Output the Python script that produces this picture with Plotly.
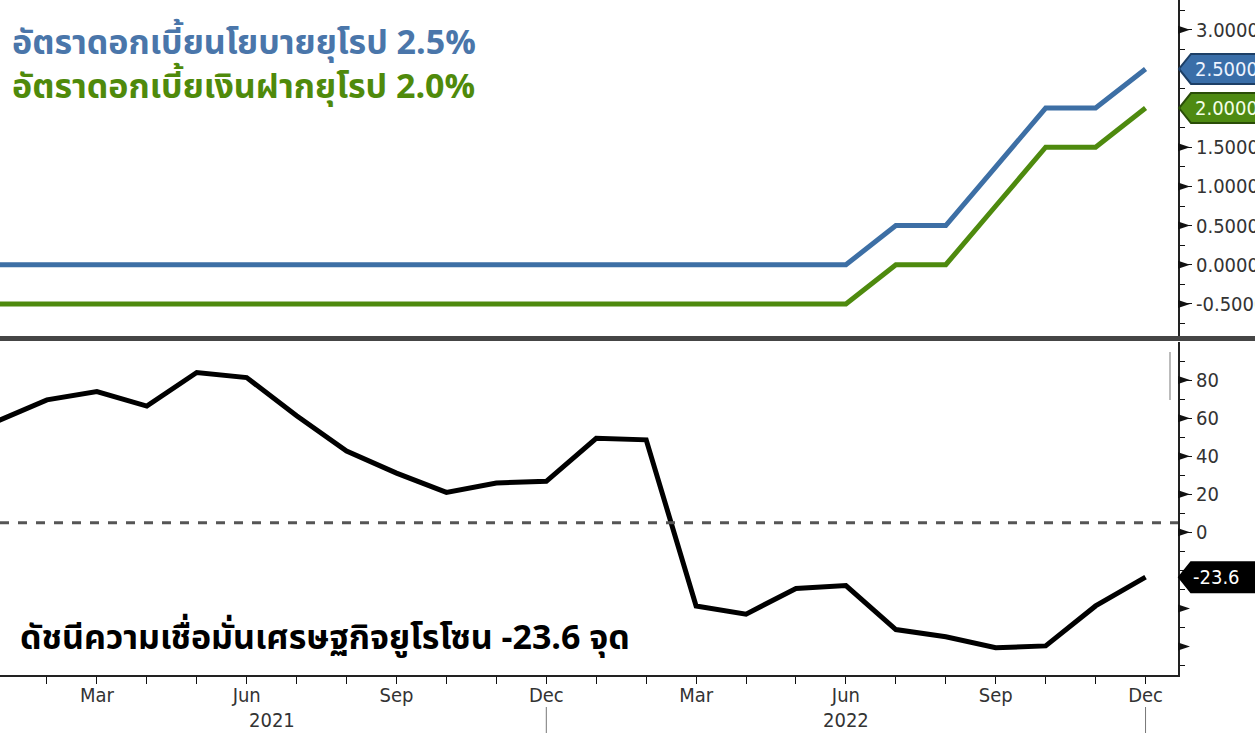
import plotly.graph_objects as go

# ---------------- data ----------------
months = ["Jan", "Feb", "Mar", "Apr", "May", "Jun", "Jul", "Aug", "Sep", "Oct", "Nov", "Dec"] * 2
years = [2021] * 12 + [2022] * 12
x_idx = list(range(len(months)))

policy_rate = [0.0] * 18 + [0.5, 0.5, 1.25, 2.0, 2.0, 2.5]
deposit_rate = [-0.5] * 18 + [0.0, 0.0, 0.75, 1.5, 1.5, 2.0]
zew_sentiment = [58.3, 69.6, 74.0, 66.3, 84.0, 81.3, 61.2, 42.7, 31.1, 21.0, 25.9, 26.8,
                 49.4, 48.6, -38.7, -43.0, -29.5, -28.0, -51.1, -54.9, -60.7, -59.7, -38.7, -23.6]
zew_ref_level = 5

top_tickvals = [-0.5, 0.0, 0.5, 1.0, 1.5, 3.0]
top_ticktext = ["-0.5000", "0.0000", "0.5000", "1.0000", "1.5000", "3.0000"]
bot_tickvals = [0, 20, 40, 60, 80]
bot_ticktext = ["0", "20", "40", "60", "80"]
bot_marker_vals = [0, 20, 40, 60, 80, -40, -60]
top_marker_vals = [-0.5, 0.0, 0.5, 1.0, 1.5, 3.0]

title1 = "อัตราดอกเบี้ยนโยบายยุโรป 2.5%"
title2 = "อัตราดอกเบี้ยเงินฝากยุโรป 2.0%"
title3 = "ดัชนีความเชื่อมั่นเศรษฐกิจยูโรโซน -23.6 จุด"

# ---------------- styling ----------------
BLUE = "#3d6fa5"
BLUE_TXT = "#4a76aa"
GREEN = "#4e8a0e"
GREEN_TXT = "#4f8a0b"
THAI = "Noto Sans Thai, Noto Sans, Tahoma, sans-serif"
TICKF = "DejaVu Sans Condensed, DejaVu Sans, Liberation Sans Narrow, sans-serif"

W, H = 1255, 735
PL, PR, PT, PB = 0, 77, 0, 60
PW, PH = W - PL - PR, H - PT - PB

def px(x):
    return (x - PL) / PW

def py(y):
    return 1 - (y - PT) / PH

xrange = [0.06, 23.65]
top_range = [-0.91, 3.38]
bot_range = [-75, 100]

fig = go.Figure()
fig.add_trace(go.Scatter(x=x_idx, y=policy_rate, mode="lines", line=dict(color=BLUE, width=5),
                         xaxis="x", yaxis="y", hoverinfo="skip"))
fig.add_trace(go.Scatter(x=x_idx, y=deposit_rate, mode="lines", line=dict(color=GREEN, width=5),
                         xaxis="x", yaxis="y", hoverinfo="skip"))
fig.add_trace(go.Scatter(x=x_idx, y=zew_sentiment, mode="lines", line=dict(color="#000000", width=5),
                         xaxis="x2", yaxis="y2", hoverinfo="skip"))

xt_vals = x_idx
xt_text = [m if m in ("Mar", "Jun", "Sep", "Dec") else "" for m in months]

fig.update_layout(
    width=W, height=H, margin=dict(l=PL, r=PR, t=PT, b=PB, autoexpand=False),
    paper_bgcolor="white", plot_bgcolor="white", showlegend=False,
    xaxis=dict(domain=[0, 1], range=xrange, anchor="y", showticklabels=False, ticks="",
               showgrid=False, zeroline=False, showline=False, automargin=False),
    yaxis=dict(domain=[0.5022, 1], range=top_range, side="right", anchor="x", automargin=False,
               tickmode="array", tickvals=top_tickvals, ticktext=top_ticktext,
               ticks="outside", ticklen=12, tickwidth=1, tickcolor="#111",
               minor=dict(ticks="outside", ticklen=5, tickcolor="#111",
                          tickmode="array", tickvals=[v / 4 for v in range(-3, 14)]),
               showgrid=False, zeroline=False, showline=True, linecolor="#222", linewidth=2,
               tickfont=dict(family=TICKF, size=20, color="#333")),
    xaxis2=dict(domain=[0, 1], range=xrange, anchor="y2", automargin=False,
                tickmode="array", tickvals=xt_vals, ticktext=xt_text,
                ticks="outside", ticklen=7, tickcolor="#111", ticklabelstandoff=-6,
                showgrid=False, zeroline=False, showline=True, linecolor="#222", linewidth=2,
                tickfont=dict(family=TICKF, size=20, color="#333")),
    yaxis2=dict(domain=[0, 0.4933], range=bot_range, side="right", anchor="x2", automargin=False,
                tickmode="array", tickvals=bot_tickvals, ticktext=bot_ticktext,
                ticks="outside", ticklen=12, tickwidth=1, tickcolor="#111",
                minor=dict(ticks="outside", ticklen=5, tickcolor="#111",
                           tickmode="array", tickvals=list(range(-70, 100, 10))),
                showgrid=False, zeroline=False, showline=True, linecolor="#222", linewidth=2,
                tickfont=dict(family=TICKF, size=20, color="#333")),
)

shapes = []
# reference dashed line
shapes.append(dict(type="line", xref="paper", yref="y2", x0=0, x1=1, y0=zew_ref_level, y1=zew_ref_level,
                   line=dict(color="#555", width=3, dash="dash")))
# panel separator
shapes.append(dict(type="rect", xref="paper", yref="paper", x0=px(0), x1=px(W), y0=py(341), y1=py(336),
                   fillcolor="#454545", line=dict(width=0)))
shapes.append(dict(type="line", xref="paper", yref="paper", x0=px(1170), x1=px(1170), y0=py(352), y1=py(400),
                   line=dict(color="#bbbbbb", width=2)))
# tick triangles
def tri(yref, v, unit):
    h = 4 * unit
    return dict(type="path", xref="paper", yref=yref,
                path=f"M {px(1178)},{v - h} L {px(1190)},{v} L {px(1178)},{v + h} Z",
                fillcolor="#111", line=dict(width=0))
top_unit = (top_range[1] - top_range[0]) / 336
bot_unit = (bot_range[1] - bot_range[0]) / 333
for v in top_marker_vals:
    shapes.append(tri("y", v, top_unit))
for v in bot_marker_vals:
    shapes.append(tri("y2", v, bot_unit))

# value label boxes
def tag(yref, v, unit, fill, border):
    h = 15 * unit
    return dict(type="path", xref="paper", yref=yref,
                path=(f"M {px(1179)},{v} L {px(1191)},{v + h} L {px(1258)},{v + h} "
                      f"L {px(1258)},{v - h} L {px(1191)},{v - h} Z"),
                fillcolor=fill, line=dict(color=border, width=2))
shapes.append(tag("y", policy_rate[-1], top_unit, "#3a6ea8", "#1d3f66"))
shapes.append(tag("y", deposit_rate[-1], top_unit, "#4e8a12", "#2a4d08"))
shapes.append(tag("y2", zew_sentiment[-1], bot_unit, "#000000", "#000000"))
# year separators
for xv in (11, 23):
    shapes.append(dict(type="line", xref="x2", yref="paper", x0=xv, x1=xv, y0=py(707), y1=py(733),
                       line=dict(color="#777", width=1)))
fig.update_layout(shapes=shapes)

ann = []
ann.append(dict(xref="paper", yref="y", x=px(1193), y=policy_rate[-1], text=f"{policy_rate[-1]:.4f}",
                xanchor="left", yanchor="middle", showarrow=False,
                font=dict(family=TICKF, size=20, color="#eef4ff")))
ann.append(dict(xref="paper", yref="y", x=px(1193), y=deposit_rate[-1], text=f"{deposit_rate[-1]:.4f}",
                xanchor="left", yanchor="middle", showarrow=False,
                font=dict(family=TICKF, size=20, color="#f4ffe8")))
ann.append(dict(xref="paper", yref="y2", x=px(1191), y=zew_sentiment[-1], text=f"{zew_sentiment[-1]:.1f}",
                xanchor="left", yanchor="middle", showarrow=False,
                font=dict(family=TICKF, size=20, color="white")))
ann.append(dict(xref="x2", yref="paper", x=5.5, y=py(720), text="2021", xanchor="center", yanchor="middle",
                showarrow=False, font=dict(family=TICKF, size=20, color="#333")))
ann.append(dict(xref="x2", yref="paper", x=17.0, y=py(720), text="2022", xanchor="center", yanchor="middle",
                showarrow=False, font=dict(family=TICKF, size=20, color="#333")))
ann.append(dict(xref="paper", yref="paper", x=px(10), y=py(66),
                text=(f"<span style='color:{BLUE_TXT}'><b>{title1}</b></span><br>"
                      f"<span style='color:{GREEN_TXT}'><b>{title2}</b></span>"),
                xanchor="left", yanchor="middle", align="left", showarrow=False,
                font=dict(family=THAI, size=34, color=BLUE_TXT)))
ann.append(dict(xref="paper", yref="paper", x=px(18), y=py(638), text=f"<b>{title3}</b>", xanchor="left",
                yanchor="middle", showarrow=False, font=dict(family=THAI, size=34, color="#000")))
fig.update_layout(annotations=ann)

fig.write_html("out.html", config={"displayModeBar": False},
               post_script="document.body.style.margin='0';document.body.style.overflow='hidden';")
